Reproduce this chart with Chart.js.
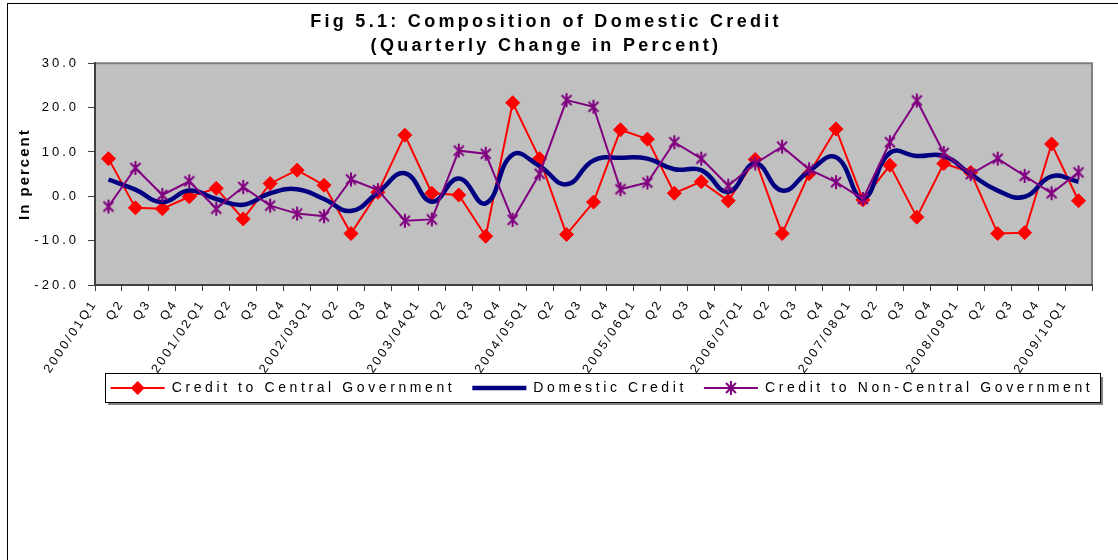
<!DOCTYPE html>
<html lang="en">
<head>
<meta charset="UTF-8">
<title>Fig 5.1: Composition of Domestic Credit</title>
<script src="https://cdn.jsdelivr.net/npm/chart.js"></script>
<style>
    html, body { margin: 0; padding: 0; background: #fff; overflow: hidden; }
    .frame { position: absolute; left: 7px; top: 3px; width: 1200px; height: 700px; border: 1px solid #000; }
    .wrap { position: absolute; left: 0; top: 0; width: 1118px; height: 560px; }
</style>
</head>
<body>
<div class="frame"></div>
<div class="wrap"><canvas id="creditChart"></canvas></div>

<script>
    // Quarterly change in percent
    const quarters = [
        '2000/01Q1', 'Q2', 'Q3', 'Q4',
        '2001/02Q1', 'Q2', 'Q3', 'Q4',
        '2002/03Q1', 'Q2', 'Q3', 'Q4',
        '2003/04Q1', 'Q2', 'Q3', 'Q4',
        '2004/05Q1', 'Q2', 'Q3', 'Q4',
        '2005/06Q1', 'Q2', 'Q3', 'Q4',
        '2006/07Q1', 'Q2', 'Q3', 'Q4',
        '2007/08Q1', 'Q2', 'Q3', 'Q4',
        '2008/09Q1', 'Q2', 'Q3', 'Q4',
        '2009/10Q1'
    ];
    const centralGov = [
        8.5, -2.6, -2.8, -0.1, 1.8, -5.1, 2.9, 5.9, 2.5, -8.4,
        0.9, 13.8, 0.7, 0.3, -9.0, 21.1, 8.5, -8.6, -1.3, 15.0,
        12.9, 0.7, 3.3, -1.0, 8.3, -8.4, 5.1, 15.2, -0.8, 7.0,
        -4.7, 7.4, 5.4, -8.4, -8.2, 11.8, -1.0
    ];
    const domesticCredit = [
        3.8, 1.5, -1.3, 1.3, -0.6, -1.9, 0.7, 1.6, -0.6, -3.3,
        0.9, 5.2, -1.2, 4.0, -1.6, 9.4, 6.8, 2.7, 8.1, 8.7,
        8.5, 6.1, 5.9, 1.0, 7.4, 1.3, 5.7, 8.8, -0.4, 9.8,
        9.1, 9.1, 5.0, 1.3, -0.1, 4.5, 3.3
    ];
    const nonCentralGov = [
        -2.3, 6.4, 0.3, 3.4, -2.8, 2.1, -2.1, -3.9, -4.5, 3.8,
        1.4, -5.5, -5.2, 10.3, 9.6, -5.3, 5.1, 21.7, 20.2, 1.6,
        3.1, 12.2, 8.5, 2.4, 7.4, 11.2, 6.1, 3.2, -0.6, 12.2,
        21.6, 9.8, 5.0, 8.5, 4.6, 0.7, 5.4
    ];
    const yRange = { min: -20, max: 30, step: 10 };

    const FONT = 'Arial, "Liberation Sans", sans-serif';

    // the old Excel export has wide letter spacing, matched per font size
    const spacingBySize = { '18': '3.3px', '15': '2px', '13': '3px', '12.5': '2.6px', '14': '3.6px' };
    const canvas = document.getElementById('creditChart');
    const ctx = canvas.getContext('2d');
    const fontProp = Object.getOwnPropertyDescriptor(CanvasRenderingContext2D.prototype, 'font');
    Object.defineProperty(ctx, 'font', {
        get() { return fontProp.get.call(this); },
        set(v) {
            fontProp.set.call(this, v);
            const m = /([\d.]+)px/.exec(v);
            this.letterSpacing = (m && spacingBySize[m[1]]) || '0px';
        }
    });

    function makeAsterisk(r, color, width) {
        const c = document.createElement('canvas');
        const s = Math.ceil(r * 2 + width * 2);
        c.width = c.height = s;
        const g = c.getContext('2d');
        g.strokeStyle = color;
        g.lineWidth = width;
        const m = s / 2;
        g.beginPath();
        [90, 45, 135].forEach(a => {
            const rad = a * Math.PI / 180;
            g.moveTo(m - r * Math.cos(rad), m - r * Math.sin(rad));
            g.lineTo(m + r * Math.cos(rad), m + r * Math.sin(rad));
        });
        g.stroke();
        return c;
    }
    const starMarker = makeAsterisk(7, '#800080', 2);

    const plotBackground = {
        id: 'plotBackground',
        beforeDraw(chart) {
            const { ctx, chartArea: a } = chart;
            ctx.save();
            ctx.fillStyle = '#C0C0C0';
            ctx.fillRect(a.left, a.top, a.width, a.height);
            ctx.strokeStyle = '#808080';
            ctx.lineWidth = 2;
            ctx.beginPath();
            ctx.moveTo(a.left, a.top);
            ctx.lineTo(a.right, a.top);
            ctx.lineTo(a.right, a.bottom);
            ctx.stroke();
            ctx.restore();
        }
    };

    // legend sits in a framed box under the rotated labels, like the Excel original
    const LEGEND_LEFT = 105, LEGEND_RIGHT = 1100;
    const legendFrame = {
        id: 'legendFrame',
        afterLayout(chart) {
            const legend = chart.legend;
            const h = legend.height;
            legend.left = 90;
            legend.right = 1114;
            legend.top = chart.chartArea.bottom + 79;
            legend.bottom = legend.top + h;
        },
        afterDraw(chart) {
            const legend = chart.legend;
            const boxes = legend.legendHitBoxes;
            if (!boxes || !boxes.length) return;
            const ctx = chart.ctx;
            const cy = boxes[0].top + boxes[0].height / 2;
            ctx.save();
            ctx.fillStyle = '#808080';
            ctx.fillRect(LEGEND_LEFT + 3, cy + 15, LEGEND_RIGHT - LEGEND_LEFT, 2);
            ctx.fillRect(LEGEND_RIGHT + 1, cy - 11, 2, 28);
            ctx.strokeStyle = '#000';
            ctx.lineWidth = 1;
            ctx.strokeRect(LEGEND_LEFT + 0.5, cy - 14.5, LEGEND_RIGHT - LEGEND_LEFT, 29);
            const bw = legend.options.labels.boxWidth;
            legend.legendItems.forEach((item, i) => {
                const ds = chart.data.datasets[item.datasetIndex];
                const x = boxes[i].left + bw / 2;
                const y = boxes[i].top + boxes[i].height / 2;
                if (ds.pointStyle === 'rectRot') {
                    const r = ds.pointRadius;
                    ctx.fillStyle = ds.backgroundColor;
                    ctx.beginPath();
                    ctx.moveTo(x, y - r);
                    ctx.lineTo(x + r, y);
                    ctx.lineTo(x, y + r);
                    ctx.lineTo(x - r, y);
                    ctx.closePath();
                    ctx.fill();
                } else if (ds.pointStyle instanceof HTMLCanvasElement) {
                    ctx.drawImage(ds.pointStyle, x - ds.pointStyle.width / 2, y - ds.pointStyle.height / 2);
                }
            });
            ctx.restore();
        }
    };

    new Chart(ctx, {
        type: 'line',
        data: {
            labels: quarters,
            datasets: [{
                label: 'Credit to Central Government',
                data: centralGov,
                borderColor: '#FF0000',
                backgroundColor: '#FF0000',
                borderWidth: 2,
                pointStyle: 'rectRot',
                pointRadius: 7,
                pointBorderWidth: 1,
                tension: 0,
                order: 3
            }, {
                label: 'Domestic Credit',
                data: domesticCredit,
                borderColor: '#000080',
                backgroundColor: '#000080',
                borderWidth: 4.5,
                pointRadius: 0,
                tension: 0.45,
                order: 2
            }, {
                label: 'Credit to Non-Central Government',
                data: nonCentralGov,
                borderColor: '#800080',
                backgroundColor: '#800080',
                borderWidth: 2,
                pointStyle: starMarker,
                pointRadius: 7,
                tension: 0,
                order: 1
            }]
        },
        options: {
            responsive: true,
            maintainAspectRatio: false,
            animation: false,
            layout: { padding: { left: 0, right: 26, top: 0, bottom: 124 } },
            plugins: {
                tooltip: { enabled: false },
                title: {
                    display: true,
                    text: ['Fig 5.1: Composition of Domestic Credit', '(Quarterly Change in Percent)'],
                    color: '#000',
                    font: { family: FONT, size: 18, weight: 'bold', lineHeight: 1.37 },
                    padding: { top: 9.5, bottom: 4.5 }
                },
                legend: {
                    position: 'bottom',
                    labels: {
                        color: '#000',
                        font: { family: FONT, size: 14 },
                        boxWidth: 54,
                        boxHeight: 0,
                        padding: 17,
                        sort: (a, b) => a.datasetIndex - b.datasetIndex
                    }
                }
            },
            scales: {
                x: {
                    offset: true,
                    grid: { offset: true, drawOnChartArea: false, drawTicks: true, tickLength: 6, color: '#404040' },
                    border: { display: true, color: '#404040', width: 2 },
                    ticks: {
                        autoSkip: false,
                        maxRotation: 56,
                        minRotation: 56,
                        labelOffset: -14,
                        padding: 6,
                        color: '#000',
                        font: { family: FONT, size: 12.5 }
                    },
                    afterFit(scale) { scale.height = 110; }
                },
                y: {
                    min: yRange.min,
                    max: yRange.max,
                    grid: { drawOnChartArea: false, drawTicks: true, tickLength: 7, color: '#404040' },
                    border: { display: true, color: '#404040', width: 2 },
                    ticks: {
                        stepSize: yRange.step,
                        padding: 9,
                        color: '#000',
                        font: { family: FONT, size: 13 },
                        callback: v => v.toFixed(1)
                    },
                    title: {
                        display: true,
                        text: 'In percent',
                        color: '#000',
                        font: { family: FONT, size: 15, weight: 'bold' },
                        padding: { top: 16, bottom: 0 }
                    },
                    afterFit(scale) { scale.width = 95; }
                }
            }
        },
        plugins: [plotBackground, legendFrame]
    });
</script>
</body>
</html>
